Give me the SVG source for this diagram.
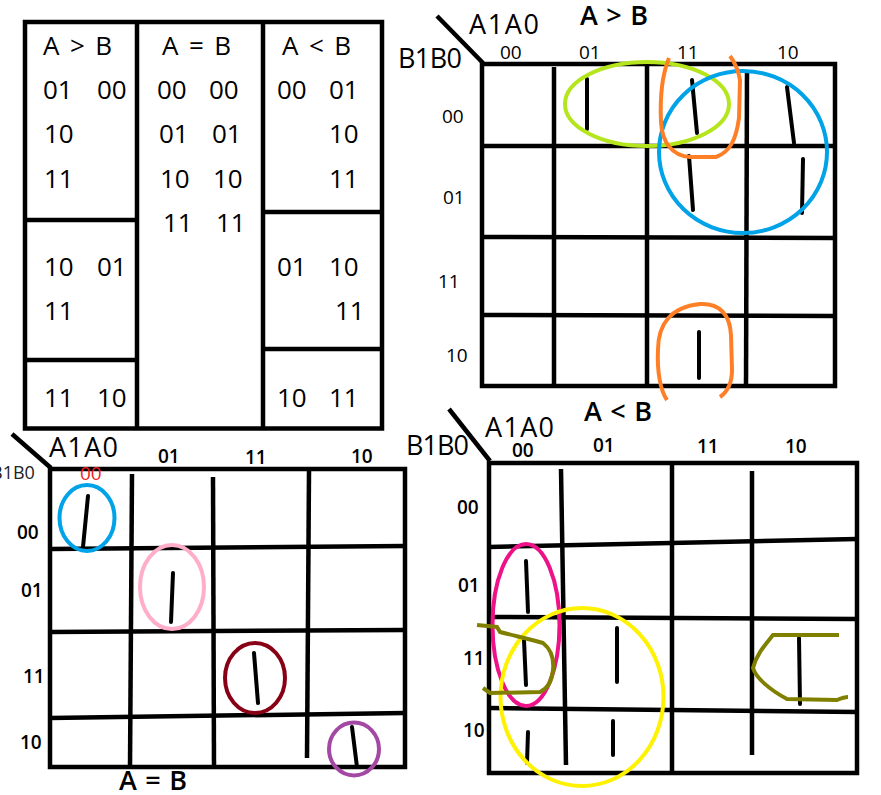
<svg xmlns="http://www.w3.org/2000/svg" width="881" height="795" viewBox="0 0 881 795">
<style>
.g{fill:none;stroke:#000;stroke-width:4.5}
.m{fill:none;stroke:#000;stroke-width:4;stroke-linecap:round}
.t{font-family:"Open Sans","Liberation Sans",sans-serif;font-size:26px;fill:#000}
.h{font-family:"Open Sans","Liberation Sans",sans-serif;font-size:27px;fill:#000}
.hb{font-family:"Open Sans","Liberation Sans",sans-serif;font-size:27px;font-weight:600;fill:#000}
.s{font-family:"Open Sans","Liberation Sans",sans-serif;font-size:19px;fill:#000}
.sb{font-family:"Open Sans","Liberation Sans",sans-serif;font-size:19px;font-weight:600;fill:#000}
.c{fill:none;stroke-width:4}
</style>
<rect width="881" height="795" fill="#fff"/>

<!-- Table of comparisons -->
<g id="table">
  <rect class="g" x="25" y="22" width="357" height="406.5"/>
  <line class="g" x1="137" y1="22" x2="137" y2="428"/>
  <line class="g" x1="263" y1="22" x2="263" y2="428"/>
  <line class="g" x1="25" y1="220" x2="137" y2="220"/>
  <line class="g" x1="25" y1="360" x2="137" y2="360"/>
  <line class="g" x1="263" y1="212" x2="382" y2="212"/>
  <line class="g" x1="263" y1="349" x2="382" y2="349"/>
  <g class="t">
    <text x="43" y="55" textLength="69" lengthAdjust="spacing">A &gt; B</text>
    <text x="43" y="99">01</text><text x="97" y="99">00</text>
    <text x="44" y="143">10</text>
    <text x="44" y="188">11</text>
    <text x="44" y="276">10</text><text x="97" y="276">01</text>
    <text x="44" y="320">11</text>
    <text x="44" y="407">11</text><text x="97" y="407">10</text>

    <text x="162" y="55" textLength="69" lengthAdjust="spacing">A = B</text>
    <text x="157" y="99">00</text><text x="209" y="99">00</text>
    <text x="159" y="143">01</text><text x="212" y="143">01</text>
    <text x="160" y="188">10</text><text x="213" y="188">10</text>
    <text x="163" y="232">11</text><text x="216" y="232">11</text>

    <text x="282" y="55" textLength="69" lengthAdjust="spacing">A &lt; B</text>
    <text x="277" y="99">00</text><text x="329" y="99">01</text>
    <text x="329" y="143">10</text>
    <text x="329" y="188">11</text>
    <text x="277" y="276">01</text><text x="329" y="276">10</text>
    <text x="335" y="320">11</text>
    <text x="277" y="407">10</text><text x="329" y="407">11</text>
  </g>
</g>

<!-- K-map A > B -->
<g id="kmap-gt">
  <line class="g" x1="437" y1="16" x2="483" y2="63"/>
  <rect class="g" x="482" y="64" width="353" height="322"/>
  <line class="g" x1="554" y1="67" x2="554" y2="384"/>
  <line class="g" x1="647" y1="64" x2="647" y2="388"/>
  <line class="g" x1="747" y1="70" x2="746" y2="388"/>
  <line class="g" x1="482" y1="146" x2="835" y2="146"/>
  <line class="g" x1="482" y1="237" x2="835" y2="238"/>
  <line class="g" x1="482" y1="315" x2="835" y2="316"/>
  <text class="h" x="469" y="34" textLength="70" lengthAdjust="spacing">A1A0</text>
  <text class="hb" x="580" y="25" textLength="68" lengthAdjust="spacing">A &gt; B</text>
  <text class="h" x="398" y="68" textLength="64" lengthAdjust="spacing">B1B0</text>
  <g class="s">
    <text x="500" y="59">00</text><text x="579" y="59">01</text><text x="677" y="59">11</text><text x="777" y="59">10</text>
    <text x="442" y="123">00</text><text x="443" y="204">01</text><text x="438" y="288">11</text><text x="446" y="362">10</text>
  </g>
  <line class="m" x1="587" y1="79" x2="587" y2="129"/>
  <line class="m" x1="692" y1="80" x2="697" y2="133"/>
  <line class="m" x1="787" y1="87" x2="794" y2="143"/>
  <line class="m" x1="689" y1="156" x2="693" y2="210"/>
  <line class="m" x1="803" y1="159" x2="802" y2="213"/>
  <line class="m" x1="699" y1="332" x2="699" y2="378"/>
  <ellipse class="c" stroke="#b5e61d" cx="647" cy="104" rx="82" ry="42"/>
  <ellipse class="c" stroke="#00a2e8" cx="743" cy="152" rx="84" ry="81"/>
  <path class="c" stroke="#ff7f27" d="M669,58 C662,75 660,100 661,122 C662,142 672,156 690,157 L716,157 C730,152 736,140 739,118 L740,80 C738,68 733,60 730,56"/>
  <path class="c" stroke="#ff7f27" d="M667,400 C660,390 657,370 658,350 C658,325 670,307 700,304 C720,303 730,315 731,335 L732,370 C732,385 727,392 720,397"/>
</g>

<!-- K-map A = B -->
<g id="kmap-eq">
  <line class="g" x1="12" y1="434" x2="51" y2="468"/>
  <rect class="g" x="50" y="469" width="355" height="298"/>
  <line class="g" x1="132" y1="474" x2="130" y2="767"/>
  <line class="g" x1="213" y1="477" x2="214" y2="768"/>
  <line class="g" x1="309" y1="471" x2="307" y2="758"/>
  <line class="g" x1="50" y1="549" x2="405" y2="546"/>
  <line class="g" x1="50" y1="632" x2="405" y2="630"/>
  <line class="g" x1="50" y1="718" x2="405" y2="713"/>
  <text class="h" x="49" y="457" textLength="69" lengthAdjust="spacing">A1A0</text>
  <text x="-9" y="479" font-family="Open Sans, Liberation Sans, sans-serif" font-size="18" fill="#222">B1B0</text>
  <text x="80" y="480" font-family="Open Sans, Liberation Sans, sans-serif" font-size="19" fill="#ed1c24">00</text>
  <g class="sb">
    <text x="158" y="463">01</text><text x="245" y="464">11</text><text x="351" y="463">10</text>
    <text x="17" y="539">00</text><text x="21" y="597">01</text><text x="23" y="683">11</text><text x="20" y="749">10</text>
  </g>
  <text class="hb" x="119" y="790" textLength="68" lengthAdjust="spacing">A = B</text>
  <line class="m" x1="88" y1="496" x2="83" y2="547"/>
  <line class="m" x1="173" y1="573" x2="171" y2="622"/>
  <line class="m" x1="254" y1="653" x2="258" y2="703"/>
  <line class="m" x1="352" y1="727" x2="357" y2="767"/>
  <ellipse class="c" stroke="#00a2e8" cx="87" cy="518" rx="27.5" ry="33"/>
  <ellipse class="c" stroke="#ffaec9" cx="172" cy="587" rx="32" ry="42"/>
  <ellipse class="c" stroke="#880015" cx="255" cy="678" rx="30" ry="35"/>
  <ellipse class="c" stroke="#a349a4" cx="354" cy="749" rx="25" ry="26.5"/>
</g>

<!-- K-map A < B -->
<g id="kmap-lt">
  <line class="g" x1="449" y1="409" x2="490" y2="461"/>
  <rect class="g" x="489" y="463" width="368" height="310"/>
  <line class="g" x1="561" y1="469" x2="566" y2="765"/>
  <line class="g" x1="672" y1="463" x2="672" y2="773"/>
  <line class="g" x1="752" y1="471" x2="752" y2="755"/>
  <line class="g" x1="489" y1="547" x2="857" y2="539"/>
  <line class="g" x1="489" y1="617" x2="857" y2="619"/>
  <line class="g" x1="489" y1="708" x2="857" y2="712"/>
  <text class="hb" x="584" y="421" textLength="68" lengthAdjust="spacing">A &lt; B</text>
  <text class="h" x="485" y="437" textLength="69" lengthAdjust="spacing">A1A0</text>
  <text class="h" x="406" y="455" textLength="63" lengthAdjust="spacing">B1B0</text>
  <g class="sb">
    <text x="512" y="457">00</text><text x="593" y="452">01</text><text x="697" y="453">11</text><text x="785" y="453">10</text>
    <text x="457" y="514">00</text><text x="458" y="592">01</text><text x="463" y="665">11</text><text x="463" y="737">10</text>
  </g>
  <line class="m" x1="526" y1="561" x2="528" y2="612"/>
  <line class="m" x1="524" y1="640" x2="526" y2="685"/>
  <line class="m" x1="617" y1="628" x2="617" y2="682"/>
  <line class="m" x1="528" y1="732" x2="527" y2="763"/>
  <line class="m" x1="613" y1="721" x2="613" y2="755"/>
  <line class="m" x1="799" y1="638" x2="800" y2="704"/>
  <ellipse class="c" stroke="#ee1289" cx="526" cy="625" rx="33.5" ry="81"/>
  <ellipse class="c" stroke="#fff200" cx="582" cy="697" rx="81.5" ry="89"/>
  <path class="c" stroke="#808000" stroke-width="3" d="M477,625 L497,627 L500,632 C515,636 530,639 543,643 C552,650 554,660 553,670 C552,680 549,688 540,692 L490,693 L483,688"/>
  <path class="c" stroke="#808000" stroke-width="3" d="M839,635 L773,635 C765,645 756,655 753,668 C756,678 770,690 787,699 L837,700 C842,698 845,697 848,697"/>
</g>
</svg>
